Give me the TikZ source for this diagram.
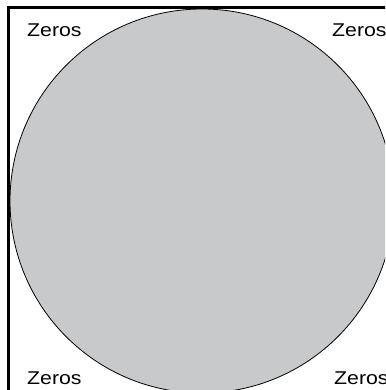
\documentclass[tikz,border=0pt]{standalone}
\usepackage{fontspec}
\setmainfont{Liberation Sans}
\definecolor{discgray}{RGB}{200,201,203}
\begin{document}
\begin{tikzpicture}[x=1pt,y=-1pt,
  lbl/.style={anchor=base west,inner sep=0pt,font=\fontsize{18.5}{18.5}\selectfont}]
\useasboundingbox (0,0) rectangle (385,390);
\clip (0,0) rectangle (385,390);
\fill[white] (0,0) rectangle (385,390);
\draw[line width=3pt,line join=miter] (8.5,400) -- (8.5,7.5) -- (400,7.5);
\draw[fill=discgray,line width=0.8pt] (202,201) circle (192);
\node[lbl] (tl) at (27,37) {\scalebox{1.15}[1]{Zeros}};
\node[lbl] (tr) at (332,37) {\scalebox{1.15}[1]{Zeros}};
\node[lbl] (bl) at (27,384) {\scalebox{1.15}[1]{Zeros}};
\node[lbl] (br) at (334,384) {\scalebox{1.15}[1]{Zeros}};
\end{tikzpicture}
\end{document}
